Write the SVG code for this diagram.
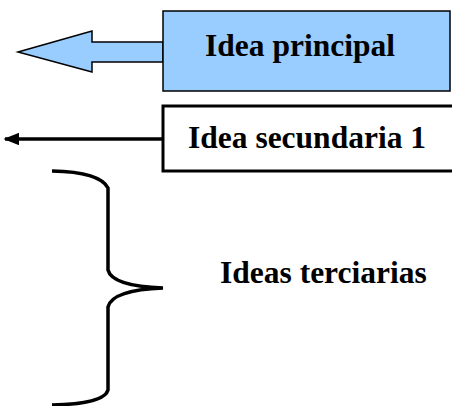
<svg xmlns="http://www.w3.org/2000/svg" width="452" height="406" viewBox="0 0 452 406">
<defs>
<style>
.lbl{font-family:"Liberation Serif","Times New Roman",serif;font-weight:bold;font-size:31.5px;fill:#000}
</style>
<marker id="ah" viewBox="0 0 10 10" refX="9" refY="5" markerWidth="4.5" markerHeight="3.6" orient="auto-start-reverse" markerUnits="strokeWidth" preserveAspectRatio="none">
<path d="M0,0 L10,5 L0,10 z" fill="#000"/>
</marker>
</defs>
<rect width="452" height="406" fill="#fff"/>
<g id="connectors">
<polygon points="18,52 92,31 92,42 163,42 163,62 92,62 92,72" fill="#99CCFF" stroke="#000" stroke-width="1.5" stroke-linejoin="miter"/>
<line x1="163" y1="139" x2="5" y2="139" stroke="#000" stroke-width="3.5" marker-end="url(#ah)"/>
</g>
<g id="idea-principal">
<rect x="163" y="11" width="287" height="80" fill="#99CCFF" stroke="#000" stroke-width="1.5"/>
<text class="lbl" x="205" y="56">Idea principal</text>
</g>
<g id="idea-secundaria">
<rect x="163" y="106" width="300" height="65" fill="#fff" stroke="#000" stroke-width="3"/>
<text class="lbl" x="188" y="148">Idea secundaria 1</text>
</g>
<g id="ideas-terciarias">
<path d="M52,171 Q100,172 108,188 L108,270 Q112,286 163,288 Q112,290 108,307 L108,390 Q104,404 52,405" fill="none" stroke="#000" stroke-width="3.5"/>
<text class="lbl" x="220" y="283">Ideas terciarias</text>
</g>
</svg>
